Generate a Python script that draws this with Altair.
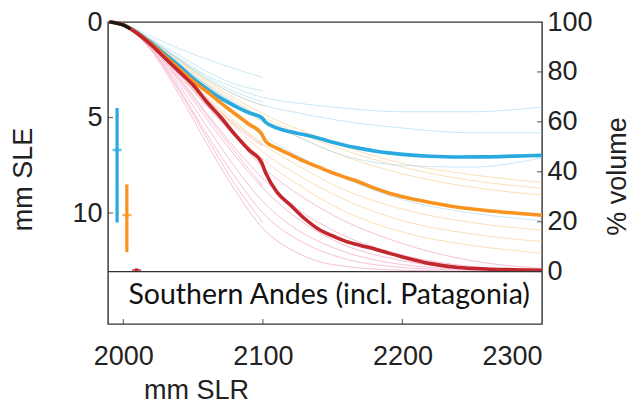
import altair as alt
import pandas as pd

# ---------------- data ----------------
x_ticks = [2000, 2100, 2200, 2300]
sle_ticks = [0, 5, 10]
pct_ticks = [0, 20, 40, 60, 80, 100]
full_sle = 13.07          # mm SLE at 0 % volume
sle_bottom = 15.81        # bottom of the label box, in mm SLE units
pct_bottom = 100 * (1 - sle_bottom / full_sle)
region_label = "Southern Andes (incl. Patagonia)"

# thick (ensemble median) curves
thick_years = [1990, 2000, 2010, 2020, 2030, 2040, 2050, 2060, 2070, 2080, 2090, 2099, 2102,
               2110, 2120, 2130, 2140, 2150, 2160, 2170, 2180, 2190, 2200, 2220, 2240, 2260, 2280, 2300]
rcp26 = [0, 0.15, 0.55, 1.1, 1.7, 2.3, 2.95, 3.5, 4.0, 4.4, 4.75, 5.0, 5.25,
         5.55, 5.75, 5.9, 6.08, 6.3, 6.48, 6.62, 6.75, 6.85, 6.93, 7.03, 7.07, 7.06, 7.02, 6.98]
rcp45 = [0, 0.15, 0.58, 1.15, 1.8, 2.45, 3.1, 3.65, 4.25, 4.8, 5.35, 5.85, 6.25,
         6.6, 6.95, 7.3, 7.6, 7.9, 8.15, 8.4, 8.7, 8.95, 9.15, 9.45, 9.7, 9.87, 10.0, 10.12]
rcp85 = [0, 0.15, 0.6, 1.2, 1.9, 2.6, 3.3, 4.2, 5.0, 5.9, 6.7, 7.35, 7.9,
         8.9, 9.6, 10.3, 10.85, 11.2, 11.5, 11.7, 11.88, 12.1, 12.3, 12.65, 12.85, 12.93, 12.97, 13.0]

# observed / historical segment
obs_years = [1990, 1995, 2000, 2005]
obs_sle = [0, 0.06, 0.16, 0.36]

# thin ensemble members (None = run ends)
member_years = [1990, 2000, 2020, 2040, 2060, 2080, 2100, 2125, 2150, 2200, 2250, 2300]
b1 = [0, 0.12, 0.75, 1.4, 1.95, 2.45, 2.9, None, None, None, None, None]
b2 = [0, 0.13, 0.9, 1.75, 2.6, 3.25, 3.6, None, None, None, None, None]
b3 = [0, 0.13, 0.95, 1.9, 2.8, 3.45, 3.95, 4.25, 4.45, 4.7, 4.7, 4.45]
b4 = [0, 0.13, 1.0, 2.0, 3.0, 3.8, 4.35, 4.75, 5.1, 5.55, 5.8, 5.8]
b5 = [0, 0.14, 1.05, 2.2, 3.3, 4.3, 5.2, 6.0, 6.8, 7.5, 7.6, 7.1]
b6 = [0, 0.15, 1.1, 2.35, 3.6, 4.85, 5.95, 7.0, 7.9, 9.3, 10.0, 10.4]
b7 = [0, 0.14, 1.05, 2.2, 3.3, 4.25, 5.0, None, None, None, None, None]
b8 = [0, 0.13, 0.95, 1.95, 2.9, 3.65, 4.2, None, None, None, None, None]

o1 = [0, 0.13, 0.95, 2.0, 3.0, 3.8, 4.4, None, None, None, None, None]
o2 = [0, 0.13, 1.0, 2.05, 3.1, 4.0, 4.8, 5.6, 6.3, 7.4, 8.0, 8.4]
o3 = [0, 0.13, 1.0, 2.1, 3.2, 4.15, 5.0, 5.8, 6.5, 7.6, 8.3, 8.7]
o4 = [0, 0.15, 1.15, 2.5, 3.9, 5.2, 6.4, 7.5, 8.5, 9.8, 10.5, 10.9]
o5 = [0, 0.15, 1.2, 2.6, 4.1, 5.5, 6.8, 8.0, 9.0, 10.4, 11.1, 11.5]
o6 = [0, 0.16, 1.25, 2.7, 4.3, 5.8, 7.2, 8.5, 9.6, 11.0, 11.7, 12.1]
o7 = [0, 0.14, 1.1, 2.35, 3.65, 4.8, 5.7, None, None, None, None, None]
o8 = [0, 0.14, 1.05, 2.2, 3.35, 4.35, 5.2, 6.0, 6.8, 7.95, 8.65, 9.06]
o9 = [0, 0.15, 1.2, 2.6, 4.05, 5.3, 6.4, None, None, None, None, None]

p1 = [0, 0.14, 1.1, 2.5, 4.0, 5.4, 6.5, None, None, None, None, None]
p2 = [0, 0.15, 1.2, 2.8, 4.4, 5.9, 7.2, None, None, None, None, None]
p3 = [0, 0.15, 1.25, 2.9, 4.8, 6.6, 8.2, 9.8, 10.9, 12.2, 12.8, 13.0]
p4 = [0, 0.16, 1.3, 3.1, 5.1, 7.0, 8.7, 10.3, 11.4, 12.5, 12.9, 13.05]
p5 = [0, 0.16, 1.35, 3.3, 5.5, 7.6, 9.4, 10.9, 11.8, 12.7, 12.95, 13.05]
p6 = [0, 0.17, 1.4, 3.5, 5.9, 8.1, 10.0, 11.4, 12.2, 12.85, 13.0, 13.07]
p7 = [0, 0.17, 1.45, 3.6, 6.1, 8.5, 10.5, None, None, None, None, None]
p8 = [0, 0.15, 1.2, 2.7, 4.4, 6.0, 7.6, 9.0, 10.1, 11.6, 12.5, 12.9]
p9 = [0, 0.16, 1.3, 3.0, 4.9, 6.8, 8.6, None, None, None, None, None]
p10 = [0, 0.18, 1.5, 3.8, 6.4, 8.8, 10.8, 12.1, 12.7, 13.0, 13.05, 13.07]

# uncertainty bars at the left
err_years = [1995.5, 2002.5, 2009.5]
err_lo = [4.5, 8.5, 12.9]
err_hi = [10.5, 12.05, 13.07]
err_mid = [6.7, 10.1, 13.0]

# ---------------- styling ----------------
C_BLUE, C_ORANGE, C_RED = "#28a9e0", "#f7931e", "#c1272d"
C_LBLUE, C_LORANGE, C_PINK = "#9fd4f0", "#f8c77a", "#ee8db2"
FRAME = "#333333"
AXFONT = "Liberation Sans"

groups = {
    "b": ([b1, b2, b3, b4, b5, b6, b7, b8], C_LBLUE),
    "o": ([o1, o2, o3, o4, o5, o6, o7, o8, o9], C_LORANGE),
    "p": ([p1, p2, p3, p4, p5, p6, p7, p8, p9, p10], C_PINK),
}

axis_common = dict(labelFont=AXFONT, labelFontSize=27, labelColor="#222222",
                   titleFont=AXFONT, titleFontSize=27, titleFontWeight="normal",
                   titleColor="#222222", domain=False, ticks=False, grid=False)

x_enc = alt.X("year:Q",
              scale=alt.Scale(domain=[1989, 2300], nice=False, zero=False),
              axis=alt.Axis(values=x_ticks, title="mm SLR", format="d", labelPadding=19,
                            titleX=88, titleY=74, titleAlign="center",
                            titleBaseline="alphabetic", titleAnchor="start", **axis_common))
y_scale = alt.Scale(domain=[0, sle_bottom], reverse=True, nice=False, zero=False)
y_enc = alt.Y("sle:Q", scale=y_scale,
              axis=alt.Axis(values=sle_ticks, title="mm SLE", labelPadding=6,
                            titleX=-85, titleY=157, titleAngle=270, titleAlign="center",
                            titleBaseline="middle", **axis_common))


def frame_of(ys, vals, member):
    rows = [{"year": y, "sle": v, "member": member} for y, v in zip(ys, vals) if v is not None]
    return pd.DataFrame(rows)


layers = []
for key in ["p", "o", "b"]:
    series, col = groups[key]
    df = pd.concat([frame_of(member_years, s, f"{key}{i}") for i, s in enumerate(series)])
    layers.append(alt.Chart(df).mark_line(strokeWidth=1, opacity=0.55, color=col, interpolate="monotone")
                  .encode(x=x_enc, y=y_enc, detail="member:N"))

for vals, col in [(rcp26, C_BLUE), (rcp45, C_ORANGE), (rcp85, C_RED)]:
    layers.append(alt.Chart(frame_of(thick_years, vals, "m"))
                  .mark_line(strokeWidth=3.6, color=col, interpolate="monotone")
                  .encode(x=x_enc, y=y_enc))

layers.append(alt.Chart(frame_of(obs_years, obs_sle, "obs"))
              .mark_line(strokeWidth=3.2, color="#1a1a1a", interpolate="monotone")
              .encode(x=x_enc, y=y_enc))

for yr, lo, hi, mid, col in zip(err_years, err_lo, err_hi, err_mid, [C_BLUE, C_ORANGE, C_RED]):
    dfe = pd.DataFrame({"year": [yr], "sle": [lo], "sle2": [hi], "mid": [mid]})
    layers.append(alt.Chart(dfe).mark_rule(strokeWidth=3.2, color=col)
                  .encode(x=x_enc, y=y_enc, y2="sle2:Q"))
    layers.append(alt.Chart(dfe).mark_tick(orient="horizontal", size=9, thickness=2.6, color=col)
                  .encode(x=x_enc, y=alt.Y("mid:Q", scale=y_scale)))

# divider between plot and label box
layers.append(alt.Chart(pd.DataFrame({"sle": [full_sle]})).mark_rule(color=FRAME, strokeWidth=1.4)
              .encode(y=y_enc))

# inward ticks (left and bottom)
layers.append(alt.Chart(pd.DataFrame({"year": [1989, 1989], "sle": [5, 10]}))
              .mark_tick(orient="horizontal", size=5, thickness=1.2, xOffset=2.5, color=FRAME)
              .encode(x=x_enc, y=y_enc))
layers.append(alt.Chart(pd.DataFrame({"year": x_ticks[:3], "sle": [sle_bottom] * 3}))
              .mark_tick(orient="vertical", size=5, thickness=1.2, yOffset=-2.5, color=FRAME)
              .encode(x=x_enc, y=y_enc))

# region label
layers.append(alt.Chart(pd.DataFrame({"year": [2147.5], "sle": [14.3], "t": [region_label]}))
              .mark_text(font="Lato", fontSize=28.5, color="#111111", baseline="middle", align="center")
              .encode(x=x_enc, y=y_enc, text="t:N"))

left = alt.layer(*layers)

pct_layer = alt.Chart(pd.DataFrame({"year": [2300] * 4, "pct": [20, 40, 60, 80]})).mark_tick(
    orient="horizontal", size=5, thickness=1.2, xOffset=-2.5, color=FRAME
).encode(
    x=x_enc,
    y=alt.Y("pct:Q", scale=alt.Scale(domain=[pct_bottom, 100], nice=False, zero=False),
            axis=alt.Axis(orient="right", values=pct_ticks, title="% volume", labelPadding=5,
                          titleX=75, titleY=154, titleAngle=270, titleAlign="center",
                          titleBaseline="middle", **axis_common)),
)

chart = alt.layer(left, pct_layer).resolve_scale(y="independent").properties(
    width=434, height=302,
    padding={"left": 100, "top": 14, "right": 91, "bottom": 79},
    autosize=alt.AutoSizeParams(type="none"),
).configure_view(stroke=FRAME, strokeWidth=1.4)

chart.save("out.html", embed_options={"renderer": "svg", "actions": False})
